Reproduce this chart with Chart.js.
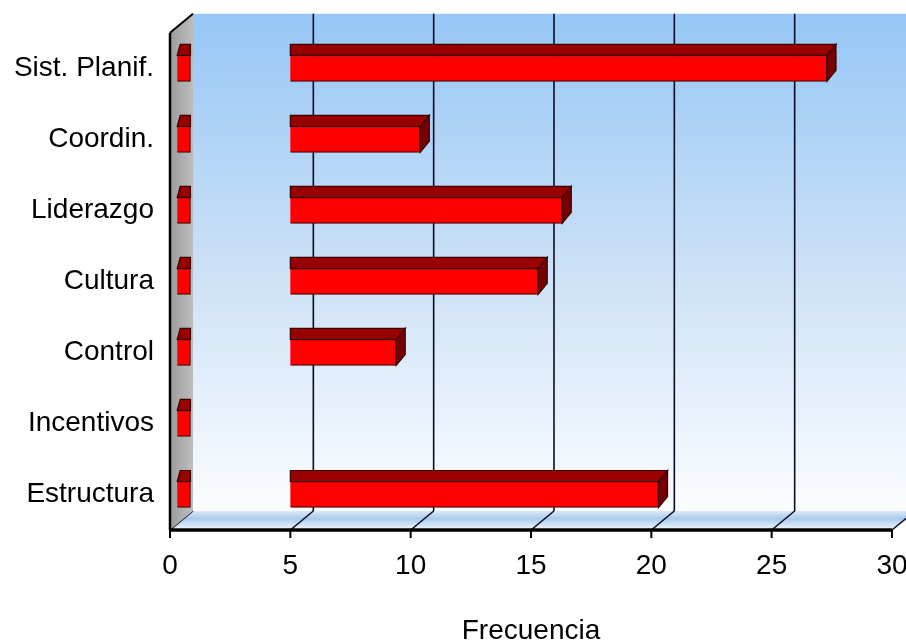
<!DOCTYPE html>
<html>
<head>
<meta charset="utf-8">
<script src="https://cdn.jsdelivr.net/npm/chart.js"></script>
<style>
body{margin:0;background:#fff}
#wrap{width:906px;height:641px}
</style>
</head>
<body>
<div id="wrap"><canvas id="chart"></canvas></div>
<script>
var categorias = ['Sist. Planif.','Coordin.','Liderazgo','Cultura','Control','Incentivos','Estructura']
var frecuencias = [27.3,10.4,16.3,15.3,9.4,0,20.3]
var inicioBarra = 5
var tramoInicial = [0.3,0.85]
var ticksX = [0,5,10,15,20,25,30]
var tituloX = 'Frecuencia'

var DX=23, DY=19, BDX=9, BDY=11
var fuente = 'Liberation Sans, Arial, sans-serif'

function barrasprincipales(){
    var rtr=[]
    for(var i=0;i<frecuencias.length;i++){
        rtr.push(frecuencias[i] > inicioBarra ? [inicioBarra, frecuencias[i]] : null)
    }
    return rtr
}
function barrasiniciales(){
    var rtr=[]
    for(var i=0;i<categorias.length;i++){
        rtr.push([tramoInicial[0], tramoInicial[1]])
    }
    return rtr
}
function poligono(ctx, pts, fill, stroke, lw){
    ctx.beginPath()
    ctx.moveTo(pts[0][0],pts[0][1])
    for(var i=1;i<pts.length;i++) ctx.lineTo(pts[i][0],pts[i][1])
    ctx.closePath()
    if(fill){ctx.fillStyle=fill;ctx.fill()}
    if(stroke){ctx.strokeStyle=stroke;ctx.lineWidth=lw||1;ctx.stroke()}
}
function linea(ctx,x0,y0,x1,y1,color,lw){
    ctx.beginPath()
    ctx.moveTo(x0,y0)
    ctx.lineTo(x1,y1)
    ctx.strokeStyle=color
    ctx.lineWidth=lw
    ctx.stroke()
}

var marco3d = {
    id:'marco3d',
    beforeDatasetsDraw: function(chart){
        var ctx=chart.ctx, a=chart.chartArea, sx=chart.scales.x
        var l=a.left, r=a.right, t=a.top, b=a.bottom
        ctx.save()
        // pared del fondo
        var g=ctx.createLinearGradient(0,t-DY,0,b-DY)
        g.addColorStop(0,'#96c7f6')
        g.addColorStop(0.5,'#cae0f6')
        g.addColorStop(1,'#fbfdff')
        ctx.fillStyle=g
        ctx.fillRect(l+DX,t-DY,r-l,b-t)
        // suelo
        var gs=ctx.createLinearGradient(0,b-DY,0,b)
        gs.addColorStop(0,'#dde9f6')
        gs.addColorStop(0.4,'#a9cbee')
        gs.addColorStop(1,'#f4f8fc')
        poligono(ctx,[[l,b],[r,b],[r+DX,b-DY],[l+DX,b-DY]],gs)
        ticksX.forEach(function(v){
            var x=sx.getPixelForValue(v)
            if(v>0) linea(ctx,x+DX,t-DY,x+DX,b-DY,'#0c0c24',1.6)
            linea(ctx,x,b,x+DX,b-DY,'#0c0c24',1.6)
            linea(ctx,x,b,x,b+8,'#000',2)
        })
        // pared izquierda
        var gl=ctx.createLinearGradient(l,0,l+DX,0)
        gl.addColorStop(0,'#9c9c9c')
        gl.addColorStop(1,'#bdbdbd')
        poligono(ctx,[[l,t],[l+DX,t-DY],[l+DX,b-DY],[l,b]],gl)
        linea(ctx,l,t,l+DX,t-DY,'#000',2)
        linea(ctx,l,t,l,b,'#000',2.5)
        // eje
        linea(ctx,l,b,r,b,'#000',3.5)
        ctx.restore()
    },
    afterDatasetsDraw: function(chart){
        var ctx=chart.ctx
        ctx.save()
        chart.data.datasets.forEach(function(ds,di){
            var meta=chart.getDatasetMeta(di)
            meta.data.forEach(function(el,i){
                if(ds.data[i]==null) return
                var p=el.getProps(['x','y','base','height'],true)
                var x0=Math.min(p.x,p.base), x1=Math.max(p.x,p.base)
                var yt=p.y-p.height/2, yb=p.y+p.height/2
                if(di==0){
                    poligono(ctx,[[x0,yt],[x0,yt-BDY],[x1+BDX,yt-BDY],[x1,yt]],'#990000','#3a0000',1.2)
                    poligono(ctx,[[x1,yt],[x1+BDX,yt-BDY],[x1+BDX,yb-BDY],[x1,yb]],'#760000','#3a0000',1.2)
                }else{
                    poligono(ctx,[[x0,yt],[x0+3,yt-BDY],[x1,yt-BDY],[x1,yt]],'#990000','#3a0000',1.2)
                }
            })
        })
        ctx.restore()
    }
}

new Chart(document.getElementById('chart'), {
    type:'bar',
    data:{
        labels:categorias,
        datasets:[
            {data:barrasprincipales(), backgroundColor:'#ff0000', borderColor:'#4a0000', borderWidth:1.2, barThickness:26, grouped:false},
            {data:barrasiniciales(), backgroundColor:'#ff0000', borderColor:'#4a0000', borderWidth:1.2, barThickness:26, grouped:false}
        ]
    },
    options:{
        indexAxis:'y',
        responsive:true,
        maintainAspectRatio:false,
        animation:false,
        layout:{padding:{top:32,right:0,left:0,bottom:0}},
        plugins:{legend:{display:false},tooltip:{enabled:false}},
        scales:{
            x:{
                min:0, max:30,
                grid:{display:false,drawTicks:false},
                border:{display:false},
                ticks:{stepSize:5,color:'#000',font:{family:fuente,size:28},padding:19},
                title:{display:true,text:tituloX,color:'#000',font:{family:fuente,size:28,lineHeight:1},padding:{top:0,bottom:-4}},
                afterFit:function(s){s.height=111;s.paddingRight=14}
            },
            y:{
                grid:{display:false,drawTicks:false},
                border:{display:false},
                ticks:{color:'#000',font:{family:fuente,size:28},padding:16},
                afterFit:function(s){s.width=170}
            }
        }
    },
    plugins:[marco3d]
})
</script>
</body>
</html>
